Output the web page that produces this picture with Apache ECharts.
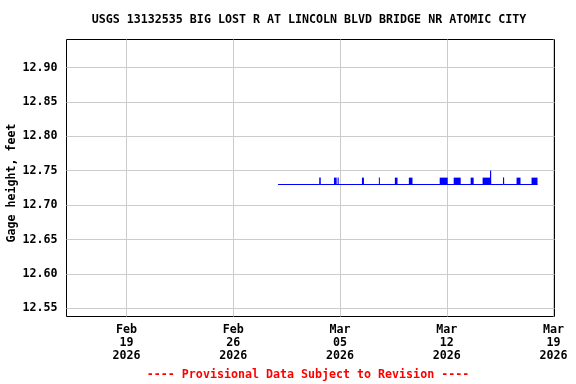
<!DOCTYPE html>
<html><head><meta charset="utf-8">
<script src="https://cdn.jsdelivr.net/npm/echarts@6/dist/echarts.min.js"></script>
<style>html,body{margin:0;padding:0;background:#fff}#c{width:576px;height:384px}</style>
</head><body><div id="c"></div>
<script>
// ---- data ----
const titleText = 'USGS 13132535 BIG LOST R AT LINCOLN BLVD BRIDGE NR ATOMIC CITY';
const yAxisTitle = 'Gage height, feet';
const footerText = '---- Provisional Data Subject to Revision ----';
const xTickDates = ['2026-02-19 00:00','2026-02-26 00:00','2026-03-05 00:00','2026-03-12 00:00','2026-03-19 00:00'];
const xTickLabels = ['Feb\n19\n2026','Feb\n26\n2026','Mar\n05\n2026','Mar\n12\n2026','Mar\n19\n2026'];
const yTicks = [12.55,12.60,12.65,12.70,12.75,12.80,12.85,12.90];
const xRange = ['2026-02-15 01:34','2026-03-19 01:34'];
const yRange = [12.5382, 12.9407];
// gage-height line (time, value)
const lineTimes = ['2026-02-28 22:30','2026-03-03 16:15','2026-03-03 16:30','2026-03-03 16:45',
  '2026-03-14 20:45','2026-03-14 21:00','2026-03-14 21:15',
  '2026-03-15 17:10','2026-03-15 17:25','2026-03-15 17:40','2026-03-17 22:50'];
const lineValues = [12.73,12.73,12.74,12.73, 12.73,12.75,12.73, 12.73,12.74,12.73,12.73];
// periods of rapid 12.73/12.74 oscillation (drawn as solid)
const blockStarts = ['2026-03-04 14:30','2026-03-04 20:15','2026-03-06 10:30','2026-03-07 13:10','2026-03-08 14:20','2026-03-09 12:20',
  '2026-03-11 12:55','2026-03-12 10:55','2026-03-13 13:35','2026-03-14 08:25','2026-03-16 13:50','2026-03-17 13:25'];
const blockEnds = ['2026-03-04 18:45','2026-03-04 21:55','2026-03-06 13:40','2026-03-07 14:45','2026-03-08 18:30','2026-03-09 18:05',
  '2026-03-12 01:30','2026-03-12 21:55','2026-03-13 18:20','2026-03-14 21:00','2026-03-16 20:05','2026-03-17 22:50'];
const blockLow = 12.73, blockHigh = 12.74;

// ---- helpers ----
const t = s => { const [d,h] = s.split(' '); const [Y,M,D] = d.split('-').map(Number); const [hh,mm] = h.split(':').map(Number); return Date.UTC(Y,M-1,D,hh,mm); };
const xTickVals = xTickDates.map(t);
const lineData = lineTimes.map((s,i)=>[t(s), lineValues[i]]);
const blockData = blockStarts.map((s,i)=>[t(s), t(blockEnds[i]), blockLow, blockHigh]);
const FONT = 'DejaVu Sans Mono';
const FS = 11.65;
const TXT = 'bold ' + FS + 'px "DejaVu Sans Mono"';

const chart = echarts.init(document.getElementById('c'), null, {renderer:'canvas'});
chart.setOption({
  animation:false,
  backgroundColor:'#fff',
  grid:{left:66.5,top:39.5,width:488,height:277,show:true,borderColor:'#000',borderWidth:1,backgroundColor:'transparent'},
  xAxis:{type:'value',min:t(xRange[0]),max:t(xRange[1]),
    axisLine:{show:false},
    axisTick:{show:false,customValues:xTickVals},
    splitLine:{show:true,lineStyle:{color:'#cccccc',width:1}},
    axisLabel:{customValues:xTickVals,margin:7,fontFamily:FONT,fontWeight:'bold',fontSize:FS,color:'#000',lineHeight:13,
      formatter:(v)=>{const i=xTickVals.indexOf(v);return i>=0?xTickLabels[i]:'';}}},
  yAxis:{type:'value',min:yRange[0],max:yRange[1],
    axisLine:{show:false},
    axisTick:{show:false,customValues:yTicks},
    splitLine:{show:true,lineStyle:{color:'#cccccc',width:1}},
    axisLabel:{customValues:yTicks,margin:9,fontFamily:FONT,fontWeight:'bold',fontSize:FS,color:'#000',
      formatter:v=>v.toFixed(2)}},
  graphic:[
    {type:'text',x:309,y:20,style:{text:titleText,font:TXT,fill:'#000',align:'center',verticalAlign:'middle'}},
    {type:'text',x:12,y:183,rotation:Math.PI/2,style:{text:yAxisTitle,font:TXT,fill:'#000',align:'center',verticalAlign:'middle'}},
    {type:'text',x:308,y:375,style:{text:footerText,font:TXT,fill:'#ff0000',align:'center',verticalAlign:'middle'}}
  ],
  series:[
    {type:'line',data:lineData,symbol:'none',lineStyle:{color:'#0000ff',width:1},z:3},
    {type:'custom',data:blockData,z:3,
      renderItem:(params,api)=>{
        const p1=api.coord([api.value(0),api.value(3)]);
        const p2=api.coord([api.value(1),api.value(2)]);
        return {type:'rect',shape:{x:p1[0],y:p1[1],width:Math.max(1,p2[0]-p1[0]),height:p2[1]-p1[1]},style:{fill:'#0000ff'}};
      }}
  ]
});
</script></body></html>
